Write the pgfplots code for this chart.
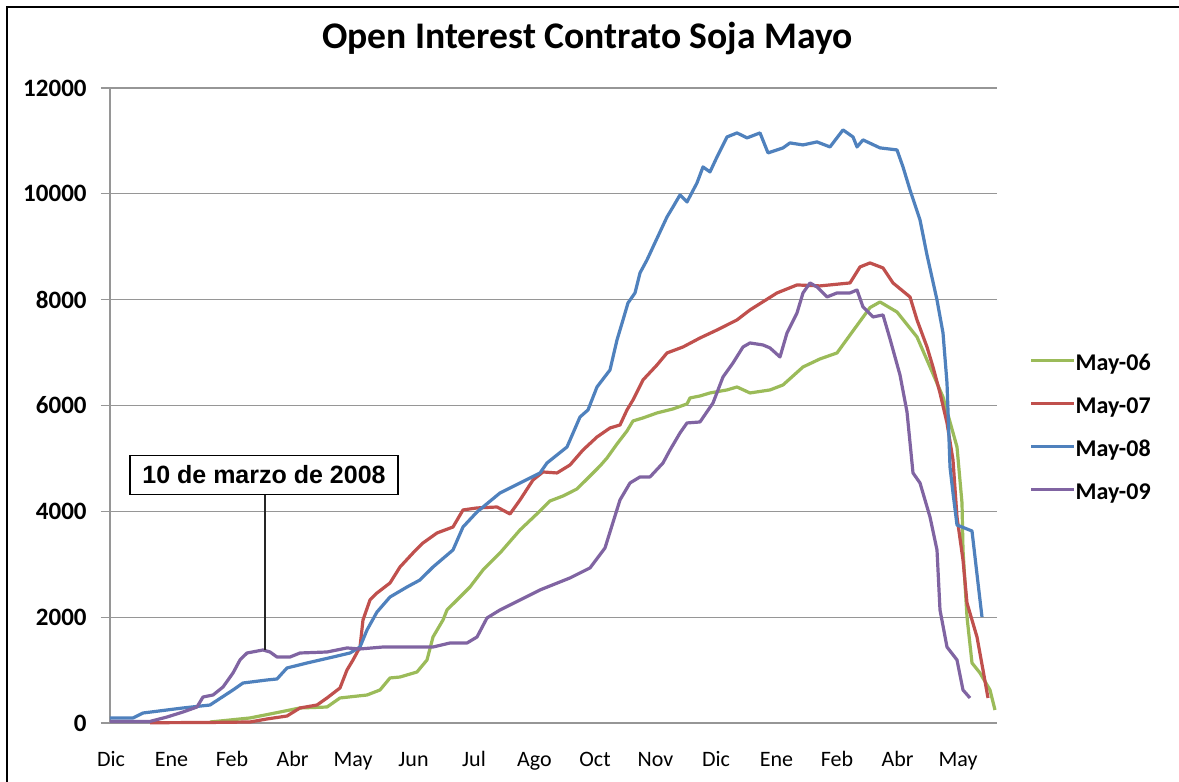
\documentclass[border=0pt]{standalone}
\usepackage{fontspec}
\setmainfont{Carlito}
\newfontfamily\arialfont{Liberation Sans}
\usepackage{pgfplots}
\pgfplotsset{compat=1.18}
\definecolor{c06}{RGB}{155,187,89}
\definecolor{c07}{RGB}{192,80,77}
\definecolor{c08}{RGB}{79,129,189}
\definecolor{c09}{RGB}{128,100,162}
\definecolor{gridc}{RGB}{150,150,150}
\begin{document}
\begin{tikzpicture}
\useasboundingbox (0,0) rectangle (589.5pt,391pt);
\fill[white] (0,0) rectangle (589.5pt,391pt);
\draw[line width=1pt] (3.5pt,-5pt) -- (3.5pt,387.5pt) -- (600pt,387.5pt);
\node[font=\fontsize{18.8}{20}\selectfont\bfseries, anchor=base, inner sep=0pt] at (293.75pt,366.5pt) {Open Interest Contrato Soja Mayo};
\begin{axis}[
 at={(55pt,29.5pt)}, anchor=south west,
 scale only axis, width=443.5pt, height=317.5pt,
 xmin=0, xmax=887, ymin=0, ymax=12000,
 clip=false,
 axis x line*=bottom, axis y line*=left,
 axis line style={draw=gridc, line width=0.6pt},
 ytick={0,2000,...,12000},
 scaled y ticks=false,
 ymajorgrids, grid style={draw=gridc, line width=0.6pt},
 tick align=outside, major tick length=4.5pt,
 ytick style={draw=gridc, line width=0.6pt},
 xtick={1,61.5,122,182.5,243,303.5,364,424.5,485,545.5,606,666.5,727,787.5,848},
 xticklabels={Dic,Ene,Feb,Abr,May,Jun,Jul,Ago,Oct,Nov,Dic,Ene,Feb,Abr,May},
 xtick style={draw=none},
 xticklabel style={font=\fontsize{11}{12}\selectfont, anchor=base, inner sep=0pt, yshift=-17pt},
 yticklabel style={font=\fontsize{12.5}{13}\selectfont\bfseries, anchor=east, inner sep=0pt, xshift=-7pt},
 /pgf/number format/1000 sep={},
 /pgf/number format/assume math mode=true,
 legend style={at={(1.0361,0.5827)}, anchor=north west, draw=none, fill=none, inner sep=0pt,
   font=\fontsize{12}{13}\selectfont\bfseries, row sep=10.5pt,
   nodes={inner sep=0pt, text height=8.5pt, text depth=2.5pt},
   /tikz/every even column/.append style={column sep=2pt}},
 legend cell align=left,
 legend image code/.code={\draw[#1] (0pt,2pt) -- (21.5pt,2pt);},
 every axis plot/.append style={line width=1.6pt, line join=round},
]
\addplot[c06] coordinates {
(100,19) (140,95) (170,208) (190,284) (217,302) (230,473) (257,529) (270,624) (280,851) (290,869)
(307,964) (317,1191) (323,1625) (333,1947) (337,2136) (350,2381) (360,2570) (373,2892) (390,3213)
(410,3648) (430,4007) (440,4196) (453,4290) (467,4423) (477,4611) (490,4857) (497,5008) (507,5273)
(517,5519) (523,5708) (533,5765) (547,5859) (563,5935) (577,6030) (580,6143) (590,6180)
(600,6237) (617,6294) (627,6350) (640,6237) (660,6294) (673,6388) (693,6728) (710,6880) (727,6993)
(743,7410) (760,7850) (770,7957) (787,7767) (807,7295) (820,6728) (833,6161) (847,5216)
(852,4158) (853,3270) (857,2003) (862,1134) (870,945) (880,624) (885,246)
};
\addlegendentry{May-06}
\addplot[c07] coordinates {
(40,5) (100,10) (140,19) (157,76) (177,132) (190,284) (207,340) (217,473) (230,662) (237,1002)
(243,1191) (250,1436) (253,1947) (260,2325) (267,2457) (280,2646) (290,2948) (303,3213) (313,3402)
(327,3591) (343,3704) (353,4026) (367,4064) (387,4082) (400,3950) (410,4215) (423,4593) (433,4744)
(447,4725) (460,4876) (473,5159) (487,5405) (500,5575) (510,5632) (517,5916) (523,6105) (533,6483)
(547,6766) (557,6993) (573,7106) (590,7276) (607,7427)
(627,7617) (640,7806) (667,8127) (687,8278) (710,8260) (740,8316) (750,8618) (760,8694)
(773,8600) (783,8316) (800,8051) (807,7617) (817,7106) (823,6728) (830,6236) (837,5670) (843,4970)
(847,3892) (853,3081) (857,2268) (867,1625) (873,1002) (878,473)
};
\addlegendentry{May-07}
\addplot[c08] coordinates {
(0,95) (23,95) (33,189) (57,246) (73,284) (100,340) (123,624) (133,756) (157,813) (167,832)
(177,1040) (197,1134) (223,1247) (240,1323) (250,1436) (257,1758) (267,2098) (280,2381) (297,2570)
(310,2703) (323,2948) (343,3270) (353,3704) (367,3988) (390,4347) (410,4536) (430,4725) (437,4914)
(457,5216) (470,5783) (478,5916) (487,6350) (500,6672) (507,7239) (513,7617) (518,7938) (525,8127)
(530,8505) (537,8751) (543,8996) (550,9280) (557,9563) (563,9752) (570,9979) (577,9847) (587,10206)
(593,10508) (600,10414) (607,10697) (617,11075) (627,11151)
(637,11057) (650,11151) (658,10773) (673,10868) (680,10962) (693,10924) (707,10981) (720,10886)
(733,11208) (743,11075) (747,10886) (753,11019) (770,10868) (787,10830) (793,10508) (800,10074)
(810,9507) (817,8845) (827,7994) (833,7371) (837,6426) (840,4838) (843,4347) (847,3742)
(862,3628) (868,2646) (872,2003)
};
\addlegendentry{May-08}
\addplot[c09] coordinates {
(0,30) (40,30) (57,113) (73,208) (87,302) (93,491) (103,529) (113,680) (123,945) (130,1191)
(137,1323) (153,1380) (160,1342) (167,1247) (180,1247) (190,1323) (217,1342) (237,1418) (250,1399)
(273,1436) (323,1436) (340,1512) (357,1512) (367,1625) (377,1985) (390,2136) (410,2325) (430,2514)
(460,2741) (480,2930) (495,3308) (510,4215) (520,4536) (530,4650) (540,4650) (553,4914) (560,5159)
(570,5481) (577,5670) (590,5689)
(603,6048) (613,6539) (623,6804) (633,7106) (640,7182) (653,7144) (660,7088) (670,6917) (677,7371)
(687,7749) (693,8127) (700,8316) (707,8240) (717,8051) (727,8127) (740,8127) (747,8183) (753,7862)
(763,7673) (773,7711) (780,7258) (790,6577) (797,5878) (803,4725) (810,4536) (820,3893) (827,3270)
(830,2136) (837,1436) (847,1191) (853,624) (860,473)
};
\addlegendentry{May-09}
\draw[line width=0.6pt, black!85] (axis cs:155,1380) -- (axis cs:155,4309);
\node[draw=black, line width=0.6pt, fill=white, font={\arialfont\bfseries\fontsize{12.5}{14}\selectfont},
  minimum width=134pt, minimum height=19.5pt, inner sep=0pt, anchor=south] at (axis cs:154,4309) {10 de marzo de 2008};
\end{axis}
\end{tikzpicture}
\end{document}
